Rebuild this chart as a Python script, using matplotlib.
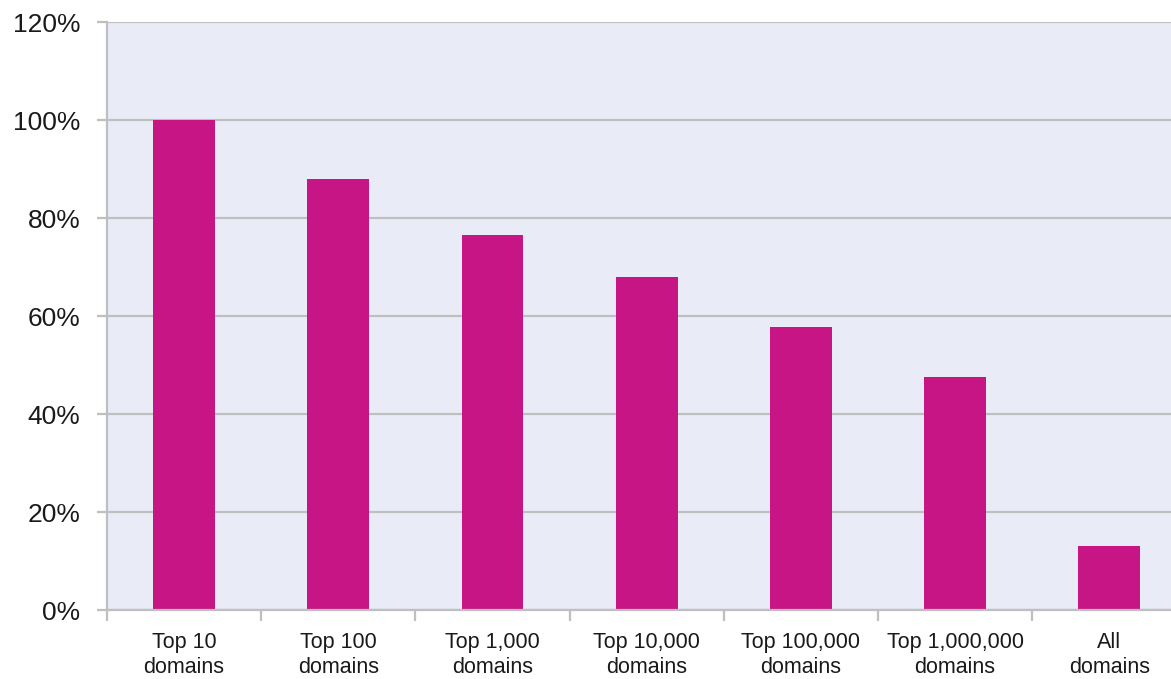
import numpy as np
import matplotlib
matplotlib.use("Agg")
import matplotlib.pyplot as plt
from matplotlib.ticker import FixedLocator, PercentFormatter

# --- Données ---
categories = ["Top 10\ndomains", "Top 100\ndomains", "Top 1,000\ndomains",
              "Top 10,000\ndomains", "Top 100,000\ndomains",
              "Top 1,000,000\ndomains", "All\ndomains"]
values = [100, 88, 76.5, 68, 57.7, 47.5, 13]
yticks = [0, 20, 40, 60, 80, 100, 120]

plt.rcParams['font.family'] = ['Liberation Sans', 'DejaVu Sans']

fig = plt.figure(figsize=(11.71, 6.79), dpi=100)
ax = fig.add_axes([107 / 1171, 69 / 679, 1 - 107 / 1171, 588 / 679])
ax.set_facecolor("#e9ecf6")

x = np.arange(len(categories))
ax.bar(x, values, width=0.40, color="#c71585", zorder=3)

ax.set_ylim(0, 120)
ax.set_xlim(-0.5, 6.4)
ax.set_yticks(yticks)
ax.yaxis.set_major_formatter(PercentFormatter(decimals=0))
ax.grid(axis="y", color="#bfbfbf", linewidth=1.6, zorder=1)

ax.set_xticks(x)
ax.set_xticklabels(categories, fontsize=15.5, color="#1a1a1a", linespacing=1.26)
ax.tick_params(axis="x", which="major", length=0, pad=16)
ax.xaxis.set_minor_locator(FixedLocator(np.arange(-0.5, 7, 1.0)))
ax.tick_params(axis="x", which="minor", length=8, width=1.6, color="#bfbfbf")
ax.tick_params(axis="y", labelsize=19, labelcolor="#1a1a1a", length=7,
               width=1.6, color="#bfbfbf", pad=12)

for s in ["top", "right"]:
    ax.spines[s].set_visible(False)
for s in ["left", "bottom"]:
    ax.spines[s].set_color("#bfbfbf")
    ax.spines[s].set_linewidth(1.6)
    ax.spines[s].set_zorder(4)

fig.savefig("out.png", dpi=100, facecolor="white")
plt.close()
